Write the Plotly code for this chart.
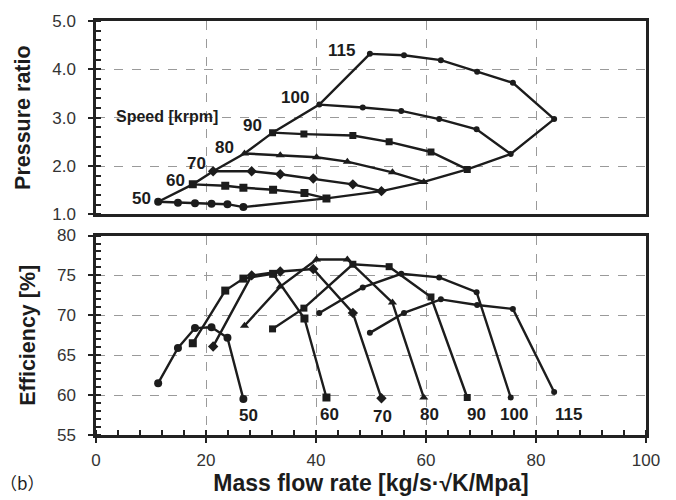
import plotly.graph_objects as go

# Compressor map: speed lines (krpm) in pressure ratio and efficiency vs corrected mass flow
speeds = ["50", "60", "70", "80", "90", "100", "115"]

mass_50 = [11.3, 14.9, 18.0, 21.0, 23.9, 26.8]
pr_50 = [1.26, 1.24, 1.23, 1.22, 1.21, 1.15]
eff_50 = [61.5, 65.9, 68.4, 68.5, 67.2, 59.5]

mass_60 = [17.6, 23.5, 26.8, 32.2, 37.9, 41.9]
pr_60 = [1.62, 1.59, 1.55, 1.51, 1.44, 1.33]
eff_60 = [66.5, 73.1, 74.6, 75.2, 69.6, 59.7]

mass_70 = [21.3, 28.3, 33.5, 39.5, 46.7, 51.9]
pr_70 = [1.89, 1.89, 1.83, 1.74, 1.62, 1.48]
eff_70 = [66.1, 75.0, 75.5, 75.8, 70.3, 59.6]

mass_80 = [27.0, 33.5, 40.1, 45.7, 53.9, 59.6]
pr_80 = [2.26, 2.22, 2.18, 2.09, 1.87, 1.67]
eff_80 = [68.7, 73.6, 77.0, 77.0, 71.6, 59.7]

mass_90 = [32.1, 37.8, 46.7, 53.3, 60.9, 67.5]
pr_90 = [2.69, 2.66, 2.63, 2.50, 2.29, 1.93]
eff_90 = [68.3, 70.9, 76.4, 76.1, 72.3, 59.7]

mass_100 = [40.6, 48.5, 55.5, 62.4, 69.2, 75.4]
pr_100 = [3.27, 3.21, 3.14, 2.97, 2.76, 2.25]
eff_100 = [70.3, 73.5, 75.2, 74.75, 72.9, 59.7]

mass_115 = [49.8, 56.0, 62.7, 69.3, 75.8, 83.3]
pr_115 = [4.32, 4.29, 4.19, 3.95, 3.72, 2.97]
eff_115 = [67.8, 70.3, 72.0, 71.3, 70.8, 60.4]

mass_lines = [mass_50, mass_60, mass_70, mass_80, mass_90, mass_100, mass_115]
pr_lines = [pr_50, pr_60, pr_70, pr_80, pr_90, pr_100, pr_115]
eff_lines = [eff_50, eff_60, eff_70, eff_80, eff_90, eff_100, eff_115]

# speed label anchors (data units)
pr_label_x = [8.3, 14.5, 18.3, 23.3, 28.4, 36.2, 44.7]
pr_label_y = [1.33, 1.70, 2.06, 2.39, 2.84, 3.41, 4.39]
eff_label_x = [27.7, 42.4, 52.1, 60.7, 69.1, 76.0, 85.9]
eff_label_y = [57.4, 57.6, 57.3, 57.6, 57.6, 57.6, 57.6]

symbols = ["circle", "square", "diamond", "triangle-up", "square", "circle", "circle"]
sizes = [8, 8, 8, 8, 7, 6, 6]

INK = "#1c1c1c"
fig = go.Figure()

for i, spd in enumerate(speeds):
    fig.add_trace(go.Scatter(
        x=mass_lines[i], y=pr_lines[i], mode="lines+markers", name=spd,
        line=dict(color=INK, width=2.4),
        marker=dict(symbol=symbols[i], size=sizes[i], color=INK),
        xaxis="x", yaxis="y", showlegend=False))
    fig.add_trace(go.Scatter(
        x=mass_lines[i], y=eff_lines[i], mode="lines+markers", name=spd,
        line=dict(color=INK, width=2.4),
        marker=dict(symbol=symbols[i], size=sizes[i], color=INK),
        xaxis="x2", yaxis="y2", showlegend=False))

# surge line (first points) and choke line (last points)
surge_x = [m[0] for m in mass_lines]
surge_y = [p[0] for p in pr_lines]
choke_x = [m[-1] for m in mass_lines]
choke_y = [p[-1] for p in pr_lines]
for xs, ys in ((surge_x, surge_y), (choke_x, choke_y)):
    fig.add_trace(go.Scatter(x=xs, y=ys, mode="lines",
                             line=dict(color=INK, width=2.4),
                             xaxis="x", yaxis="y", showlegend=False))

lab_font = dict(family="Liberation Sans", size=17, color=INK)
for i, spd in enumerate(speeds):
    fig.add_annotation(x=pr_label_x[i], y=pr_label_y[i], xref="x", yref="y",
                       text=f"<b>{spd}</b>", showarrow=False, font=lab_font)
    fig.add_annotation(x=eff_label_x[i], y=eff_label_y[i], xref="x2", yref="y2",
                       text=f"<b>{spd}</b>", showarrow=False, font=lab_font)
fig.add_annotation(x=12.9, y=3.02, xref="x", yref="y", text="<b>Speed [krpm]</b>",
                   showarrow=False, font=dict(family="Liberation Sans", size=16, color=INK))
fig.add_annotation(x=-0.178, y=-0.115, xref="paper", yref="paper", text="（b）",
                   showarrow=False, xanchor="left", yanchor="middle",
                   font=dict(family="Noto Sans CJK SC", size=17, color=INK))

tick_font = dict(family="Liberation Sans", size=17, color="#333333")
grid = dict(showgrid=True, gridcolor="#9a9a9a", griddash="dash", gridwidth=1)
frame = dict(showline=True, linecolor="#222222", linewidth=2.5, mirror=True, zeroline=False)

fig.update_layout(
    width=676, height=500,
    margin=dict(l=96, r=30, t=15, b=56),
    plot_bgcolor="white", paper_bgcolor="white",
    xaxis=dict(domain=[0, 1], range=[0, 100], dtick=20, anchor="y",
               showticklabels=False, ticks="", **grid, **frame),
    yaxis=dict(domain=[0.533, 1], range=[1, 5], dtick=1, tickformat=".1f",
               ticks="outside", ticklen=5, tickwidth=2, tickcolor="#222222",
               minor=dict(dtick=0.2, ticks="inside", ticklen=5, tickwidth=1.5,
                          tickcolor="#222222", showgrid=False),
               tickfont=tick_font, anchor="x", ticklabelstandoff=9,
               title=dict(text="<b>Pressure ratio</b>",
                          font=dict(family="Liberation Sans", size=21.5, color=INK),
                          standoff=16),
               **grid, **frame),
    xaxis2=dict(domain=[0, 1], range=[0, 100], dtick=20, anchor="y2",
                ticks="outside", ticklen=5, tickwidth=2, tickcolor="#222222",
                minor=dict(dtick=4, ticks="inside", ticklen=5, tickwidth=1.5,
                           tickcolor="#222222", showgrid=False),
                tickfont=tick_font, ticklabelstandoff=3,
                title=dict(text="<b>Mass flow rate [kg/s·√K/Mpa]</b>",
                           font=dict(family="Liberation Sans", size=23, color=INK),
                           standoff=2),
                **grid, **frame),
    yaxis2=dict(domain=[0, 0.4818], range=[55, 80], dtick=5, anchor="x2",
                ticks="outside", ticklen=5, tickwidth=2, tickcolor="#222222",
                minor=dict(dtick=1, ticks="inside", ticklen=5, tickwidth=1.5,
                           tickcolor="#222222", showgrid=False),
                tickfont=tick_font, ticklabelstandoff=9,
                title=dict(text="<b>Efficiency [%]</b>",
                           font=dict(family="Liberation Sans", size=21.5, color=INK),
                           standoff=16),
                **grid, **frame),
)

fig.write_html("out.html")
